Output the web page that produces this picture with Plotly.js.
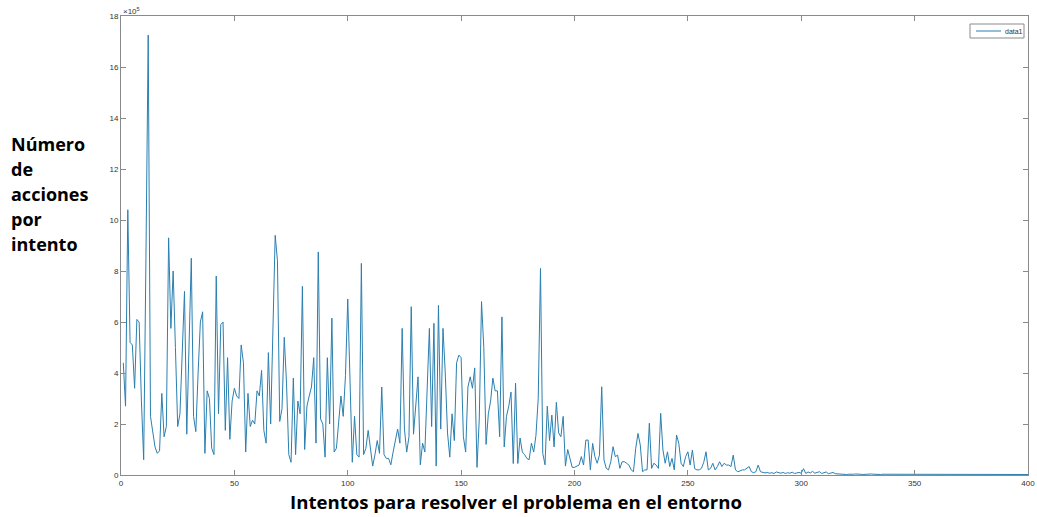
<!DOCTYPE html>
<html>
<head>
<meta charset="utf-8">
<script src="https://cdn.plot.ly/plotly-3.0.1.min.js"></script>
<style>html,body{margin:0;padding:0;background:#fff;}#chart{width:1037px;height:517px;}</style>
</head>
<body>
<div id="chart"></div>
<script>
// Values in units of 10^5 actions (axis shows ×10^5)
const accionesPorIntento = [
  4.4, 2.7, 10.4, 5.2, 5.1, 3.4, 6.1, 6.0, 2.9, 0.6,
  8.5, 17.25, 2.3, 1.6, 1.1, 0.85, 0.95, 3.2, 1.5, 1.9,
  9.3, 5.75, 8.0, 5.0, 1.9, 2.4, 4.5, 7.2, 1.6, 5.0,
  8.5, 2.3, 1.7, 4.0, 6.0, 6.4, 0.85, 3.3, 3.0, 1.05,
  0.8, 7.8, 2.4, 5.9, 6.0, 1.75, 4.6, 1.4, 2.9, 3.4,
  3.1, 3.0, 5.1, 4.4, 0.9, 3.2, 1.9, 2.15, 2.0, 3.3,
  3.1, 4.1, 1.75, 1.25, 4.8, 2.0, 6.0, 9.4, 8.4, 2.1,
  2.6, 5.4, 3.6, 0.8, 0.5, 3.8, 0.8, 2.9, 2.4, 7.4,
  1.0, 2.7, 3.1, 3.45, 4.6, 1.25, 8.75, 2.2, 2.0, 0.7,
  4.6, 2.0, 6.15, 0.9, 1.05, 2.0, 3.1, 2.3, 3.9, 6.9,
  3.85, 0.5, 2.3, 0.8, 0.7, 8.3, 0.8, 1.05, 1.75, 1.1,
  0.35, 0.8, 1.35, 0.85, 3.45, 0.8, 0.65, 0.65, 0.4, 0.9,
  1.35, 1.8, 1.25, 5.75, 1.8, 0.9, 1.5, 6.6, 1.6, 2.7,
  3.85, 0.4, 1.25, 0.9, 3.45, 5.75, 1.9, 5.95, 0.35, 6.65,
  1.8, 5.75, 4.0, 1.65, 0.7, 2.4, 1.35, 4.4, 4.7, 4.6,
  1.5, 0.9, 3.45, 3.85, 3.4, 4.2, 0.3, 2.2, 6.8, 5.0,
  1.2, 2.4, 2.9, 3.8, 3.3, 3.3, 1.5, 6.2, 1.1, 2.3,
  2.7, 3.25, 0.45, 3.6, 0.45, 1.45, 0.9, 0.8, 0.65, 0.6,
  1.25, 0.9, 1.55, 3.0, 8.1, 0.85, 0.4, 2.7, 1.35, 2.35,
  1.1, 2.85, 1.65, 1.5, 2.3, 0.35, 1.0, 0.6, 0.3, 0.3,
  0.33, 0.39, 0.72, 0.39, 1.37, 1.37, 0.2, 1.24, 0.72, 0.46,
  0.78, 3.46, 0.59, 0.26, 0.2, 0.52, 1.11, 0.72, 0.78, 0.26,
  0.52, 0.52, 0.46, 0.39, 0.2, 0.13, 1.05, 1.63, 1.18, 0.13,
  0.2, 0.2, 2.03, 0.26, 0.46, 0.39, 0.26, 2.42, 0.98, 0.46,
  0.91, 0.33, 0.65, 0.2, 1.57, 1.24, 0.46, 0.33, 0.72, 0.91,
  0.39, 0.98, 0.25, 0.2, 0.2, 0.26, 0.5, 0.91, 0.2, 0.26,
  0.46, 0.2, 0.33, 0.52, 0.33, 0.46, 0.39, 0.39, 0.33, 0.78,
  0.2, 0.13, 0.16, 0.2, 0.2, 0.26, 0.33, 0.13, 0.09, 0.13,
  0.39, 0.13, 0.09, 0.08, 0.1, 0.07, 0.09, 0.06, 0.12, 0.08,
  0.07, 0.1, 0.06, 0.09, 0.07, 0.11, 0.06, 0.08, 0.1, 0.07,
  0.25, 0.06, 0.12, 0.08, 0.14, 0.07, 0.1, 0.13, 0.06, 0.09,
  0.12, 0.05, 0.08, 0.1, 0.05, 0.04, 0.03, 0.04, 0.03, 0.02,
  0.03, 0.02, 0.03, 0.04, 0.02, 0.03, 0.02, 0.03, 0.03, 0.02,
  0.04, 0.03, 0.02, 0.03, 0.02, 0.03, 0.03, 0.02, 0.03, 0.02,
  0.02, 0.03, 0.02, 0.03, 0.02, 0.02, 0.03, 0.02, 0.03, 0.02,
  0.02, 0.03, 0.02, 0.02, 0.03, 0.02, 0.02, 0.03, 0.02, 0.02,
  0.03, 0.02, 0.02, 0.03, 0.02, 0.02, 0.02, 0.03, 0.02, 0.02,
  0.02, 0.03, 0.02, 0.02, 0.02, 0.03, 0.02, 0.02, 0.02, 0.02,
  0.03, 0.02, 0.02, 0.02, 0.02, 0.03, 0.02, 0.02, 0.02, 0.02,
  0.02, 0.03, 0.02, 0.02, 0.02, 0.02, 0.02, 0.03, 0.02, 0.02
];
const intentos = accionesPorIntento.map((_, i) => i + 1);
const xTicks = [0, 50, 100, 150, 200, 250, 300, 350, 400];
const yTicks = [0, 2, 4, 6, 8, 10, 12, 14, 16, 18];
const serieNombre = 'data1';
const tituloX = 'Intentos para resolver el problema en el entorno';
const tituloYLineas = ['Número', 'de', 'acciones', 'por', 'intento'];

const lineColor = '#2a7fb0';
const axisColor = '#8a8a8a';
const smallFont = {family: 'Liberation Sans, Arial, sans-serif', size: 8, color: '#333'};

const axisCommon = {
  showgrid: false, zeroline: false, showline: true, mirror: 'ticks',
  linecolor: axisColor, linewidth: 1, ticks: 'inside', ticklen: 5,
  tickcolor: axisColor, tickfont: smallFont
};

const trace = {
  x: intentos, y: accionesPorIntento, type: 'scatter', mode: 'lines',
  name: serieNombre, line: {color: lineColor, width: 1}, showlegend: false
};

// pixel -> paper helpers (plot area: x 121..1028, y 16..475)
const px = v => (v - 121) / 907;
const py = v => (475 - v) / 459;

const titleYAnnotations = tituloYLineas.map((t, i) => ({
  text: '<b>' + t + '</b>', xref: 'paper', yref: 'paper',
  x: px(9), y: py(144 + i * 25), xanchor: 'left', yanchor: 'middle',
  align: 'left', showarrow: false,
  font: {family: 'Open Sans, sans-serif', size: 18, color: '#000'}
}));

const layout = {
  width: 1037, height: 517,
  margin: {l: 121, r: 9, t: 16, b: 42},
  paper_bgcolor: '#fff', plot_bgcolor: '#fff',
  showlegend: false,
  xaxis: Object.assign({}, axisCommon, {range: [0, 400], tickvals: xTicks}),
  yaxis: Object.assign({}, axisCommon, {range: [0, 18], tickvals: yTicks}),
  shapes: [
    {type: 'rect', xref: 'paper', yref: 'paper', x0: px(970), x1: px(1024), y0: py(38), y1: py(24),
     line: {color: axisColor, width: 1}, fillcolor: '#fff'},
    {type: 'line', xref: 'paper', yref: 'paper', x0: px(976), x1: px(1001), y0: py(31), y1: py(31),
     line: {color: lineColor, width: 1}}
  ],
  annotations: [
    {text: serieNombre, xref: 'paper', yref: 'paper', x: px(1003), y: py(31),
     xanchor: 'left', yanchor: 'middle', showarrow: false,
     font: {family: 'Liberation Sans, Arial, sans-serif', size: 7, color: '#333'}},
    {text: '×10<sup>5</sup>', xref: 'paper', yref: 'paper', x: 0, y: 1,
     xanchor: 'left', yanchor: 'bottom', showarrow: false, yshift: -2,
     font: smallFont},
    {text: '<b>' + tituloX + '</b>', xref: 'paper', yref: 'paper',
     x: px(516), y: py(501), xanchor: 'center', yanchor: 'middle',
     showarrow: false,
     font: {family: 'Open Sans, sans-serif', size: 18.6, color: '#000'}}
  ].concat(titleYAnnotations)
};

Plotly.newPlot('chart', [trace], layout, {displayModeBar: false, staticPlot: true});
</script>
</body>
</html>
